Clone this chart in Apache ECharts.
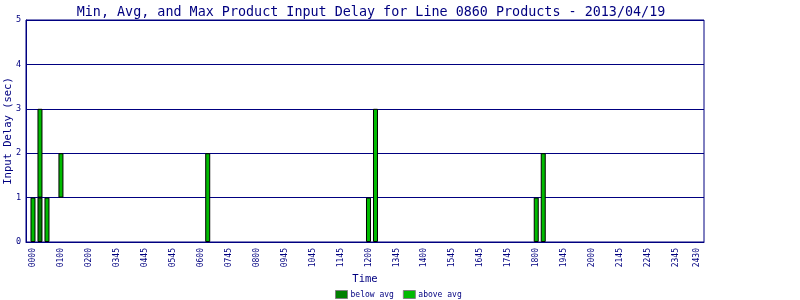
<!DOCTYPE html>
<html>
<head>
<meta charset="utf-8">
<script src="https://cdn.jsdelivr.net/npm/echarts@6/dist/echarts.min.js"></script>
<style>html,body{margin:0;padding:0;background:#fff}#c{width:800px;height:300px}</style>
</head>
<body>
<div id="c"></div>
<script>
// Tick labels shown on the time axis and the 15-minute slot each sits on
const tickLabels = ['0000','0100','0200','0345','0445','0545','0600','0745','0800','0945','1045','1145','1200','1345','1400','1545','1645','1745','1800','1945','2000','2145','2245','2345','2430'];
const tickSlots  = [0,4,8,12,16,20,24,28,32,36,40,44,48,52,56,60,64,68,72,76,80,84,88,92,95];

// Slots that have data, with min / avg / max input delay (sec)
const barSlots = [0, 1, 2, 4, 25, 48, 49, 72, 73];
const minVals  = [0, 0, 0, 1, 0,  0,  0,  0,  0];
const avgVals  = [0, 1, 0, 1, 0,  0,  0,  0,  0];
const maxVals  = [1, 3, 1, 2, 2,  1,  3,  1,  2];

const yTicks = [0, 1, 2, 3, 4, 5];

// axis spans slot -1 .. 96
const firstSlot = -1, lastSlot = 96;
const categories = [];
for (let s = firstSlot; s <= lastSlot; s++) categories.push(String(s));
const labelMap = {};
tickSlots.forEach((s, i) => { labelMap[String(s)] = tickLabels[i]; });

const n = categories.length;
const baseData = new Array(n).fill(null);
const belowData = new Array(n).fill(null);
const aboveData = new Array(n).fill(null);
barSlots.forEach((s, i) => {
  const idx = s - firstSlot;
  baseData[idx] = minVals[i];
  const b = avgVals[i] - minVals[i];
  const a = maxVals[i] - avgVals[i];
  belowData[idx] = b > 0 ? b : null;
  aboveData[idx] = a > 0 ? a : null;
});

const navy = '#000080';
const mono = 'DejaVu Sans Mono';

const chart = echarts.init(document.getElementById('c'), null, {renderer: 'canvas'});
chart.setOption({
  animation: false,
  backgroundColor: '#ffffff',
  title: {
    text: 'Min, Avg, and Max Product Input Delay for Line 0860 Products - 2013/04/19',
    left: 366, textAlign: 'center', top: 1,
    textStyle: {fontFamily: mono, fontSize: 13.4, fontWeight: 'normal', color: navy}
  },
  legend: {
    data: ['below avg', 'above avg'],
    left: 335, top: 290,
    itemWidth: 12, itemHeight: 8, itemGap: 9,
    padding: 0,
    icon: 'rect',
    itemStyle: {borderColor: '#808080', borderWidth: 1},
    textStyle: {fontFamily: mono, fontSize: 8, color: navy, padding: [0, 0, 0, -2]}
  },
  grid: {
    left: 26, right: 96, top: 20, bottom: 58,
    containLabel: false, outerBoundsMode: 'none',
    show: true, borderColor: navy, borderWidth: 1, backgroundColor: 'transparent'
  },
  xAxis: {
    type: 'category',
    data: categories,
    boundaryGap: false,
    name: 'Time', nameLocation: 'middle', nameGap: 32, nameMoveOverlap: false,
    nameTextStyle: {fontFamily: mono, fontSize: 10.5, color: navy},
    axisLine: {lineStyle: {color: navy, width: 1}},
    axisTick: {show: false},
    splitLine: {show: false},
    axisLabel: {
      interval: (i, v) => labelMap[v] !== undefined,
      formatter: v => labelMap[v] || '',
      rotate: 90, margin: 6,
      fontFamily: mono, fontSize: 8, color: navy
    }
  },
  yAxis: {
    type: 'value', min: 0, max: 5, interval: 1,
    name: 'Input Delay (sec)', nameLocation: 'middle', nameGap: 12, nameRotate: 90,
    nameMoveOverlap: false,
    nameTextStyle: {fontFamily: mono, fontSize: 10.5, color: navy},
    axisLine: {show: true, lineStyle: {color: navy, width: 1}},
    axisTick: {show: false},
    splitLine: {show: true, lineStyle: {color: navy, width: 1}},
    axisLabel: {
      margin: 5, fontFamily: mono, fontSize: 8.5, color: navy,
      formatter: v => yTicks.includes(v) ? String(v) : ''
    }
  },
  series: [
    {
      name: 'base', type: 'bar', stack: 'd', data: baseData, barWidth: 5,
      silent: true,
      itemStyle: {color: 'rgba(0,0,0,0)', borderWidth: 0}
    },
    {
      name: 'below avg', type: 'bar', stack: 'd', data: belowData, barWidth: 5,
      itemStyle: {color: '#008000', borderColor: '#000000', borderWidth: 1}
    },
    {
      name: 'above avg', type: 'bar', stack: 'd', data: aboveData, barWidth: 5,
      itemStyle: {color: '#00BB00', borderColor: '#000000', borderWidth: 1}
    }
  ]
});
</script>
</body>
</html>
